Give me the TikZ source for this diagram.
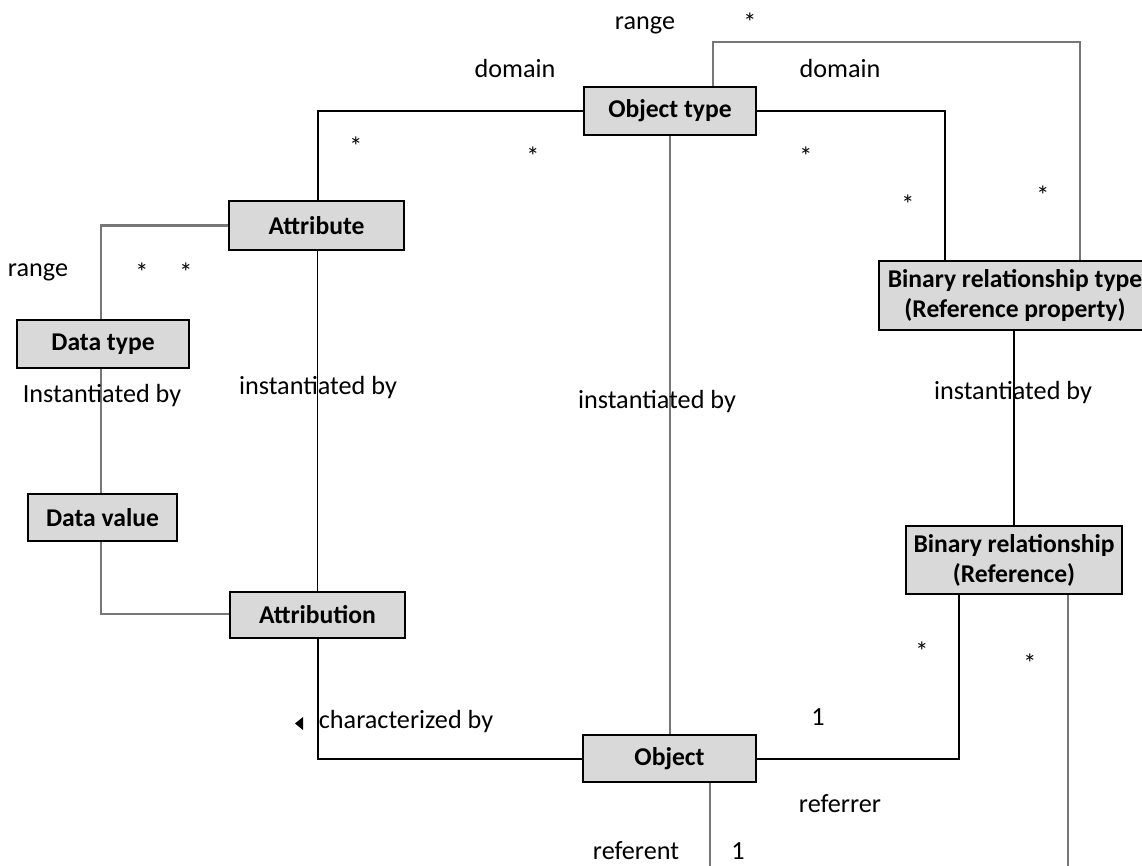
\documentclass[tikz,border=0pt]{standalone}
\usepackage{fontspec}
\setmainfont{Carlito}
\begin{document}
\begin{tikzpicture}[x=0.5pt,y=-0.5pt,
  entity/.style={draw=black,line width=1.1pt,fill=boxgray,
    font=\fontsize{12.8}{15}\selectfont\bfseries,
    inner sep=0pt,align=center},
  lbl/.style={inner sep=0pt,font=\fontsize{13.1}{15}\selectfont},
  darkline/.style={draw=black,line width=0.9pt},
  greyline/.style={draw=linegray,line width=1.1pt}]
\definecolor{boxgray}{HTML}{D9D9D9}
\definecolor{linegray}{HTML}{777777}
\useasboundingbox (0,0) rectangle (1142,866);

% classes
\node[entity,minimum width=86pt,minimum height=24pt] (otype) at (670,111) {Object type};
\node[entity,minimum width=87.5pt,minimum height=24.5pt] (attr) at (316.5,225.5) {Attribute};
\node[entity,minimum width=136pt,minimum height=34.5pt] (brt) at (1015,295.5) {Binary relationship type\\(Reference property)};
\node[entity,minimum width=86pt,minimum height=24pt] (dtype) at (103,344) {Data type};
\node[entity,minimum width=74.5pt,minimum height=23.5pt] (dval) at (102.5,517.5) {Data value};
\node[entity,minimum width=87.5pt,minimum height=23pt] (attn) at (317.5,615) {Attribution};
\node[entity,minimum width=108pt,minimum height=34pt] (brel) at (1014,560) {Binary relationship\\(Reference)};
\node[entity,minimum width=86.5pt,minimum height=23.5pt] (obj) at (669.5,758.5) {Object};

% corner points of the routed connectors
\coordinate (rt1) at (713,42);
\coordinate (rt2) at (1080,42);
\coordinate (dl) at (318,111);
\coordinate (dr) at (945,111);
\coordinate (ar) at (101,225.5);
\coordinate (vb) at (101,614);
\coordinate (cb) at (318,759);
\coordinate (ob) at (959,759);
\coordinate (objdown) at (710,866);
\coordinate (reldown) at (1068,866);

% connectors
\draw[greyline] (otype.north -| rt1) -- (rt1) -- (rt2) -- (brt.north -| rt2);
\draw[darkline] (otype.west) -- (dl) -- (attr.north -| dl);
\draw[darkline] (otype.east) -- (dr) -- (brt.north -| dr);
\draw[greyline] (otype.south) -- (obj.north -| otype.south);
\draw[greyline] (attr.west) -- (ar) -- (dtype.north -| ar);
\draw[darkline] (attr.south -| attn.north) -- (attn.north);
\draw[greyline] (dtype.south -| ar) -- (dval.north -| ar);
\draw[greyline] (dval.south -| vb) -- (vb) -- (attn.west |- vb);
\draw[darkline] (attn.south -| cb) -- (cb) -- (obj.west |- cb);
\draw[darkline] (brt.south -| brel.north) -- (brel.north);
\draw[darkline] (obj.east |- ob) -- (ob) -- (brel.south -| ob);
\draw[greyline] (brel.south -| reldown) -- (reldown);
\draw[greyline] (obj.south -| objdown) -- (objdown);

% role names and multiplicities
\node[lbl] (l1) at (645,25) {range};
\node[lbl] (l2) at (750,22) {*};
\node[lbl] (l3) at (515,69) {domain};
\node[lbl] (l4) at (840,69) {domain};
\node[lbl] (l5) at (356,146) {*};
\node[lbl] (l6) at (533,156) {*};
\node[lbl] (l7) at (806,156) {*};
\node[lbl] (l8) at (908,204) {*};
\node[lbl] (l9) at (1043,195) {*};
\node[lbl] (l10) at (38,272) {range};
\node[lbl] (l11) at (142,272) {*};
\node[lbl] (l12) at (186,272) {*};
\node[lbl] (l13) at (102,396) {Instantiated by};
\node[lbl] (l14) at (318,388) {instantiated by};
\node[lbl] (l15) at (657,402) {instantiated by};
\node[lbl] (l16) at (1013,393) {instantiated by};
\node[lbl] (l17) at (922,651) {*};
\node[lbl] (l18) at (1030,663) {*};
\node[lbl] (l19) at (818,717) {1};
\node[lbl] (l20) at (406,722) {characterized by};
\node[lbl] (l21) at (840,804) {referrer};
\node[lbl] (l22) at (636,851) {referent};
\node[lbl] (l23) at (738,851) {1};

% reading direction of the association name
\fill (303,717) -- (303,730) -- (295,723.5) -- cycle;
\end{tikzpicture}
\end{document}
